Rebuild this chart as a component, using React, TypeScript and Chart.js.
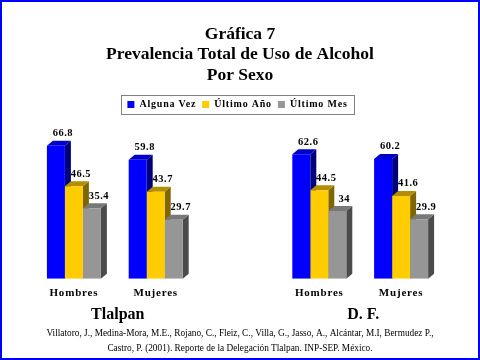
import React, { useEffect, useRef } from 'react';
import { Chart, registerables } from 'chart.js';

Chart.register(...registerables);

const categories = ['Hombres', 'Mujeres', '', 'Hombres', 'Mujeres'];
const groupLabels = ['Tlalpan', 'D. F.'];
const seriesNames = ['Alguna Vez', 'Último Año', 'Último Mes'];
const algunaVez = [66.8, 59.8, null, 62.6, 60.2];
const ultimoAnio = [46.5, 43.7, null, 44.5, 41.6];
const ultimoMes = [35.4, 29.7, null, 34, 29.9];
const titleLines = ['Gráfica 7', 'Prevalencia Total de Uso de Alcohol', 'Por Sexo'];
const sourceLines = [
  'Villatoro, J., Medina-Mora, M.E., Rojano, C., Fleiz, C., Villa, G., Jasso, A., Alcántar, M.I, Bermudez P.,',
  'Castro, P. (2001). Reporte de la Delegación Tlalpan. INP-SEP. México.',
];

const frontColors = ['#0000FF', '#FFCC00', '#969696'];
const sideColors = ['#00007A', '#7F6600', '#4B4B4B'];
const topColors = ['#0000C8', '#B38F00', '#787878'];

const SERIF = "'Liberation Serif', 'Times New Roman', serif";
const DX = 6;
const DY = 5;

const setSpacing = (chart: any, v: string) => {
  try {
    chart.ctx.letterSpacing = v;
  } catch (e) {}
};

const decorPlugin = {
  id: 'decor',
  beforeLayout(chart: any) {
    setSpacing(chart, '0.8px');
  },
  beforeDraw(chart: any) {
    setSpacing(chart, '0.8px');
  },
  beforeDatasetsDraw(chart: any) {
    const ctx = chart.ctx;
    chart.data.datasets.forEach((ds: any, di: number) => {
      const meta = chart.getDatasetMeta(di);
      meta.data.forEach((el: any, i: number) => {
        if (ds.data[i] == null) return;
        const { x, y, base, width } = el.getProps(['x', 'y', 'base', 'width'], true);
        const l = x - width / 2;
        const r = x + width / 2;
        ctx.save();
        ctx.fillStyle = sideColors[di];
        ctx.beginPath();
        ctx.moveTo(r, y);
        ctx.lineTo(r + DX, y - DY);
        ctx.lineTo(r + DX, base - DY);
        ctx.lineTo(r, base);
        ctx.closePath();
        ctx.fill();
        ctx.fillStyle = topColors[di];
        ctx.beginPath();
        ctx.moveTo(l, y);
        ctx.lineTo(r, y);
        ctx.lineTo(r + DX, y - DY);
        ctx.lineTo(l + DX, y - DY);
        ctx.closePath();
        ctx.fill();
        ctx.restore();
      });
    });
  },
  afterDatasetsDraw(chart: any) {
    const ctx = chart.ctx;
    ctx.save();
    ctx.letterSpacing = '0.5px';
    ctx.font = `bold 10.5px ${SERIF}`;
    ctx.fillStyle = '#000';
    ctx.textAlign = 'center';
    ctx.textBaseline = 'bottom';
    chart.data.datasets.forEach((ds: any, di: number) => {
      const meta = chart.getDatasetMeta(di);
      meta.data.forEach((el: any, i: number) => {
        const v = ds.data[i];
        if (v == null) return;
        const { x, y } = el.getProps(['x', 'y'], true);
        ctx.fillText(String(v), x + DX + 1, y - DY - 2);
      });
    });
    ctx.restore();
  },
  afterDraw(chart: any) {
    const ctx = chart.ctx;
    const W = chart.width;
    ctx.save();
    ctx.letterSpacing = '0px';
    ctx.fillStyle = '#000';
    ctx.textAlign = 'center';
    ctx.textBaseline = 'middle';
    // title
    ctx.font = `bold 17.5px ${SERIF}`;
    titleLines.forEach((t, i) => ctx.fillText(t, W / 2, 34 + i * 20.5));
    // legend frame
    const lg = chart.legend;
    if (lg && lg.legendHitBoxes && lg.legendHitBoxes.length) {
      const hb = lg.legendHitBoxes;
      const first = hb[0];
      const last = hb[hb.length - 1];
      const cy = first.top + first.height / 2;
      ctx.strokeStyle = '#808080';
      ctx.lineWidth = 1;
      const x0 = Math.round(first.left - 6) + 0.5;
      const x1 = Math.round(last.left + last.width + 6) + 0.5;
      ctx.strokeRect(x0, Math.round(cy - 10) + 0.5, x1 - x0, 19);
    }
    // group labels
    const xs = chart.scales.x;
    ctx.font = `bold 16px ${SERIF}`;
    const g1 = (xs.getPixelForValue(0) + xs.getPixelForValue(1)) / 2;
    const g2 = (xs.getPixelForValue(3) + xs.getPixelForValue(4)) / 2;
    ctx.fillText(groupLabels[0], g1 + 3, 315);
    ctx.fillText(groupLabels[1], g2 + 3, 315);
    // source
    ctx.font = `9.3px ${SERIF}`;
    sourceLines.forEach((t, i) => ctx.fillText(t, W / 2, 334 + i * 15));
    ctx.restore();
  },
};

export default function App() {
  const ref = useRef<HTMLCanvasElement | null>(null);
  useEffect(() => {
    if (!ref.current) return;
    const mk = (label: string, data: (number | null)[], i: number) => ({
      label,
      data,
      backgroundColor: frontColors[i],
      borderWidth: 0,
      categoryPercentage: 0.66,
      barPercentage: 1,
    });
    const chart = new Chart(ref.current, {
      type: 'bar',
      data: {
        labels: categories,
        datasets: [
          mk(seriesNames[0], algunaVez, 0),
          mk(seriesNames[1], ultimoAnio, 1),
          mk(seriesNames[2], ultimoMes, 2),
        ],
      },
      options: {
        responsive: false,
        animation: false,
        layout: { padding: { top: 93.5, left: 33, right: 38, bottom: 52 } },
        plugins: {
          title: { display: false },
          tooltip: { enabled: false },
          legend: {
            display: true,
            position: 'top',
            labels: {
              boxWidth: 7,
              boxHeight: 7,
              padding: 6,
              color: '#000',
              font: { family: SERIF, size: 10, weight: 'bold' },
            },
          },
        },
        scales: {
          x: {
            grid: { display: false, drawTicks: false },
            border: { display: false },
            ticks: {
              color: '#000',
              padding: 8,
              font: { family: SERIF, size: 11, weight: 'bold' },
              maxRotation: 0,
              autoSkip: false,
            },
          },
          y: { display: false, min: 0, max: 80 },
        },
      },
      plugins: [decorPlugin],
    } as any);
    return () => chart.destroy();
  }, []);
  return (
    <div style={{ position: 'fixed', left: 0, top: 0, width: 480, height: 360, background: '#fff' }}>
      <canvas ref={ref} width={480} height={360} style={{ display: 'block', width: 480, height: 360 }} />
      <div
        style={{
          position: 'absolute',
          left: 0,
          top: 0,
          width: 480,
          height: 360,
          boxSizing: 'border-box',
          border: '2px solid #0000FF',
          pointerEvents: 'none',
        }}
      />
    </div>
  );
}
